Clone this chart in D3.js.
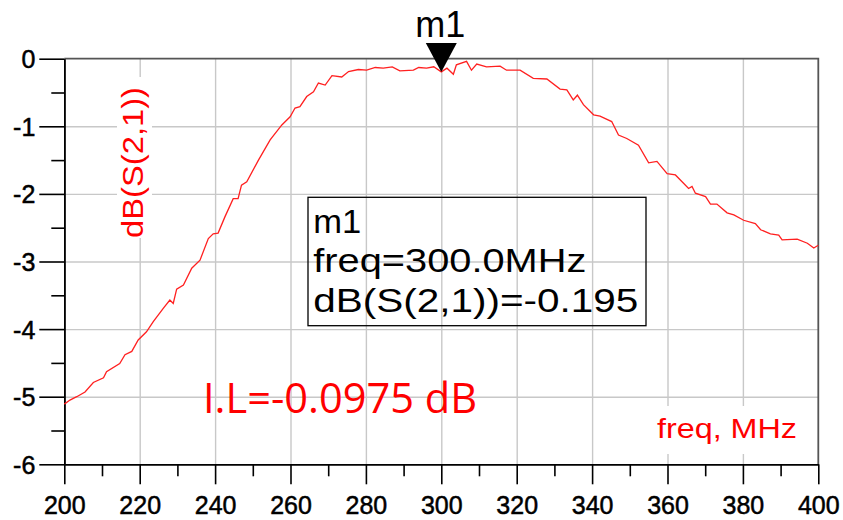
<!DOCTYPE html>
<html lang="en">
<head>
    <meta charset="UTF-8">
    <title>dB(S(2,1))</title>
    <script src="https://d3js.org/d3.v7.min.js"></script>
    <style>
        body {
            margin: 0;
            background: #fff;
        }
        svg text {
            font-family: 'Liberation Sans', Arial, sans-serif;
        }
        .axis text {
            font-size: 25px;
            fill: #000;
            stroke: #000;
            stroke-width: 0.5;
        }
        .axis path, .axis line {
            stroke: #000;
            stroke-width: 1.6;
        }
        .grid line {
            stroke: #c8c8c8;
            stroke-width: 1.4;
        }
        .grid path {
            display: none;
        }
    </style>
</head>
<body>
    <div id="chart"></div>

    <script>
        // Data
        const freqs = [200, 201.5, 203.3, 205.5, 207.7, 210.4, 211.2, 214.7, 216.1, 217.9,
            219.6, 221.8, 223.6, 226.3, 228.0, 228.9, 229.8, 231.6, 233.8, 236.0,
            238.2, 239.5, 240.8, 242.6, 244.8, 246.1, 247.0, 248.4, 251.5, 254.6,
            257.7, 259.9, 261.2, 262.5, 264.3, 266.1, 267.4, 269.2, 271.0, 273.6,
            275.4, 278.0, 280.2, 282.5, 284.6, 287.0, 289.0, 292.6, 294.0, 296.1,
            298.0, 300.0, 301.5, 303.2, 304.0, 306.7, 308.0, 309.4, 312.0, 315.6,
            317.3, 320.9, 324.4, 328.0, 331.5, 333.3, 335.0, 336.1, 337.7, 340.4,
            342.1, 345.2, 347.0, 349.2, 352.3, 355.0, 357.2, 359.9, 362.1, 365.6,
            366.5, 367.4, 370.1, 371.4, 373.1, 375.8, 377.6, 380.2, 383.3, 384.7,
            387.3, 389.5, 390.4, 394.4, 397.1, 398.8, 400];
        const s21 = [-5.11, -5.05, -5.00, -4.93, -4.79, -4.72, -4.63, -4.51, -4.38, -4.33,
            -4.16, -4.04, -3.89, -3.69, -3.57, -3.62, -3.41, -3.35, -3.10, -2.98,
            -2.66, -2.59, -2.58, -2.34, -2.07, -2.07, -1.87, -1.82, -1.50, -1.20,
            -0.98, -0.86, -0.73, -0.71, -0.56, -0.49, -0.36, -0.39, -0.25, -0.27,
            -0.19, -0.16, -0.17, -0.13, -0.14, -0.12, -0.18, -0.17, -0.13, -0.14,
            -0.12, -0.195, -0.14, -0.23, -0.09, -0.04, -0.17, -0.08, -0.12, -0.11,
            -0.17, -0.17, -0.29, -0.30, -0.45, -0.46, -0.61, -0.54, -0.68, -0.83,
            -0.85, -0.93, -1.13, -1.18, -1.28, -1.54, -1.52, -1.70, -1.72, -1.92,
            -1.89, -1.99, -2.04, -2.15, -2.15, -2.28, -2.31, -2.39, -2.44, -2.53,
            -2.59, -2.61, -2.68, -2.67, -2.73, -2.80, -2.76];

        const xTicks = [200, 220, 240, 260, 280, 300, 320, 340, 360, 380, 400];
        const xMinor = [210, 230, 250, 270, 290, 310, 330, 350, 370, 390];
        const yTicks = [0, -1, -2, -3, -4, -5, -6];
        const yMinor = [-0.5, -1.5, -2.5, -3.5, -4.5, -5.5];

        const marker = { name: 'm1', freq: 300.0, value: -0.195 };
        const markerLines = ['m1', 'freq=300.0MHz', 'dB(S(2,1))=-0.195'];
        const ilLabel = 'I.L=-0.0975 dB';

        const width = 843, height = 520;
        const plot = { left: 64.3, right: 818.3, top: 58.7, bottom: 464.3 };

        const svg = d3.select('#chart').append('svg')
            .attr('width', width)
            .attr('height', height);

        const x = d3.scaleLinear().domain([200, 400]).range([plot.left, plot.right]);
        const y = d3.scaleLinear().domain([0, -6]).range([plot.top, plot.bottom]);

        // grid
        svg.append('g')
            .attr('class', 'grid')
            .attr('transform', `translate(0,${plot.bottom})`)
            .call(d3.axisBottom(x).tickValues(xTicks.slice(1, -1))
                .tickSize(-(plot.bottom - plot.top)).tickFormat(''));
        svg.append('g')
            .attr('class', 'grid')
            .attr('transform', `translate(${plot.left},0)`)
            .call(d3.axisLeft(y).tickValues(yTicks.slice(1, -1))
                .tickSize(-(plot.right - plot.left)).tickFormat(''));

        // label backgrounds (they hide the grid)
        svg.append('rect')
            .attr('x', 117).attr('y', 77).attr('width', 35).attr('height', 161)
            .attr('fill', '#fff');
        svg.append('rect')
            .attr('x', 650).attr('y', 406).attr('width', 156).attr('height', 48)
            .attr('fill', '#fff');

        // frame top / right
        svg.append('path')
            .attr('d', `M${plot.left},${plot.top}H${plot.right}V${plot.bottom}`)
            .attr('fill', 'none')
            .attr('stroke', '#555')
            .attr('stroke-width', 1.8);

        // axes
        svg.append('g')
            .attr('class', 'axis')
            .attr('transform', `translate(${plot.left},0)`)
            .call(d3.axisLeft(y).tickValues(yMinor).tickSize(13).tickSizeOuter(0).tickFormat(''));
        svg.append('g')
            .attr('class', 'axis')
            .attr('transform', `translate(${plot.left},0)`)
            .call(d3.axisLeft(y).tickValues(yTicks).tickSize(25).tickSizeOuter(0)
                .tickPadding(4).tickFormat(d => String(d)))
            .selectAll('text').attr('dy', '0.36em');

        svg.append('g')
            .attr('class', 'axis')
            .attr('transform', `translate(0,${plot.bottom})`)
            .call(d3.axisBottom(x).tickValues(xMinor).tickSize(12).tickSizeOuter(0).tickFormat(''));
        svg.append('g')
            .attr('class', 'axis')
            .attr('transform', `translate(0,${plot.bottom})`)
            .call(d3.axisBottom(x).tickValues(xTicks).tickSize(20).tickSizeOuter(0)
                .tickPadding(12).tickFormat(d => String(d)));

        // trace
        const line = d3.line()
            .x((d, i) => x(freqs[i]))
            .y(d => y(d));

        svg.append('path')
            .datum(s21)
            .attr('d', line)
            .attr('fill', 'none')
            .attr('stroke', '#ff2020')
            .attr('stroke-width', 1.3);

        // marker triangle
        const mx = x(marker.freq), my = y(marker.value);
        svg.append('path')
            .attr('d', `M${mx},${my}L${mx - 15.5},${my - 29}L${mx + 15.5},${my - 29}Z`)
            .attr('fill', '#000');
        svg.append('text')
            .attr('x', mx - 1)
            .attr('y', my - 35)
            .attr('text-anchor', 'middle')
            .style('font-size', '36px')
            .text(marker.name);

        // marker readout box
        svg.append('rect')
            .attr('x', 308).attr('y', 197.3)
            .attr('width', 338).attr('height', 128.4)
            .attr('fill', 'none')
            .attr('stroke', '#000')
            .attr('stroke-width', 1.3);
        const lineWidths = [48, 273, 325];
        svg.selectAll('.mk-line')
            .data(markerLines)
            .enter().append('text')
            .attr('class', 'mk-line')
            .attr('x', 313.3)
            .attr('y', (d, i) => 233 + i * 39.4)
            .attr('textLength', (d, i) => lineWidths[i])
            .attr('lengthAdjust', 'spacingAndGlyphs')
            .style('font-size', '33px')
            .text(d => d);

        // axis titles
        svg.append('text')
            .attr('transform', 'translate(143,162.5) rotate(-90)')
            .attr('text-anchor', 'middle')
            .attr('textLength', 151)
            .attr('lengthAdjust', 'spacingAndGlyphs')
            .style('font-size', '29px')
            .style('fill', '#ff0000')
            .text('dB(S(2,1))');

        svg.append('text')
            .attr('x', 657)
            .attr('y', 438)
            .attr('textLength', 140)
            .attr('lengthAdjust', 'spacingAndGlyphs')
            .style('font-size', '28px')
            .style('fill', '#ff0000')
            .text('freq, MHz');

        // insertion loss note
        svg.append('text')
            .attr('x', 203)
            .attr('y', 413)
            .attr('textLength', 274)
            .attr('lengthAdjust', 'spacingAndGlyphs')
            .style('font-family', "'Open Sans', sans-serif")
            .style('font-size', '42px')
            .style('fill', '#ff0000')
            .text(ilLabel);
    </script>
</body>
</html>
